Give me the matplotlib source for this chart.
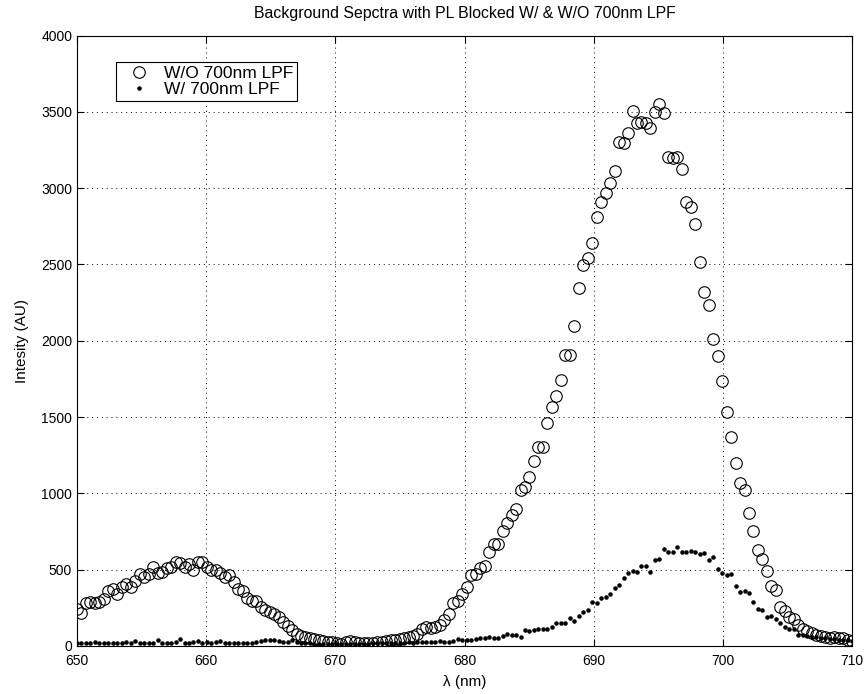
import matplotlib
matplotlib.use("Agg")
import matplotlib.pyplot as plt
import numpy as np

# spectrometer grid, 174 samples from 650 to 710 nm
wavelength = np.linspace(650, 710, 174)

# W/O 700nm LPF (open circles)
no_filter = [
    240, 218, 280, 290, 284, 290, 306, 362, 371, 341,
    389, 406, 385, 428, 472, 454, 472, 520, 480, 487,
    509, 520, 552, 546, 520, 537, 498, 552, 552, 520,
    498, 498, 480, 450, 465, 421, 371, 362, 313, 297,
    295, 255, 236, 224, 212, 190, 160, 130, 105, 80,
    68, 61, 55, 45, 39, 34, 29, 28, 20, 14,
    25, 30, 27, 22, 18, 18, 21, 25, 28, 32,
    37, 40, 45, 51, 57, 65, 80, 110, 125, 118,
    125, 140, 170, 208, 284, 297, 341, 389, 465, 470,
    509, 526, 614, 668, 668, 754, 804, 858, 896, 1022,
    1044, 1109, 1212, 1306, 1302, 1463, 1568, 1640, 1743, 1905,
    1905, 2100, 2344, 2497, 2541, 2639, 2809, 2912, 2971, 3032,
    3113, 3305, 3294, 3360, 3506, 3429, 3436, 3429, 3397, 3502,
    3550, 3491, 3207, 3196, 3207, 3124, 2912, 2875, 2765, 2518,
    2322, 2235, 2010, 1900, 1739, 1535, 1372, 1197, 1070, 1022,
    874, 756, 629, 568, 494, 393, 367, 254, 231, 192,
    175, 138, 109, 100, 83, 72, 66, 57, 50, 57,
    55, 50, 39, 33,
]

# W/ 700nm LPF (dots)
with_filter = [
    20, 18, 22, 20, 24, 20, 18, 22, 20, 20,
    22, 24, 20, 30, 20, 18, 22, 20, 38, 22,
    20, 22, 24, 44, 20, 18, 24, 30, 22, 24,
    20, 26, 32, 20, 22, 18, 20, 22, 20, 18,
    24, 35, 38, 40, 36, 30, 26, 28, 42, 24,
    22, 20, 18, 16, 15, 14, 14, 13, 12, 12,
    14, 15, 14, 16, 15, 16, 18, 17, 18, 20,
    19, 20, 22, 21, 24, 22, 25, 26, 28, 27,
    28, 30, 28, 28, 30, 44, 40, 38, 40, 48,
    50, 52, 57, 50, 55, 65, 79, 72, 70, 57,
    105, 100, 102, 109, 108, 110, 126, 149, 148, 150,
    185, 166, 197, 225, 236, 290, 284, 313, 323, 339,
    378, 400, 448, 476, 494, 485, 524, 524, 483, 564,
    570, 636, 616, 618, 647, 614, 614, 623, 614, 603,
    607, 564, 581, 505, 480, 465, 470, 393, 352, 362,
    345, 290, 240, 236, 188, 199, 175, 153, 123, 109,
    111, 72, 72, 66, 61, 57, 54, 50, 48, 45,
    42, 40, 38, 35,
]

plt.rcParams['font.family'] = ['Liberation Sans', 'DejaVu Sans']
plt.rcParams['font.size'] = 10

fig = plt.figure(figsize=(8.68, 6.94), dpi=100)
ax = fig.add_axes([0.0887, 0.0692, 0.8929, 0.8795])

ax.plot(wavelength, no_filter, 'o', mfc='none', mec='black', ms=8.3, mew=0.8,
        label='W/O 700nm LPF')
ax.plot(wavelength, with_filter, '.', color='black', ms=4.5,
        label='W/ 700nm LPF')

ax.set_xlim(650, 710)
ax.set_ylim(0, 4000)
ax.set_xticks(np.arange(650, 711, 10))
ax.set_yticks(np.arange(0, 4001, 500))
ax.grid(True, linestyle=(0, (1, 4)), color='black', linewidth=0.7)
ax.tick_params(direction='in', top=True, right=True, length=5, labelsize=10)
ax.tick_params(axis='x', pad=6)
for s in ax.spines.values():
    s.set_linewidth(0.8)

ax.set_title('Background Sepctra with PL Blocked W/ & W/O 700nm LPF', fontsize=11.4, pad=13)
ax.set_xlabel('λ (nm)', fontsize=11, labelpad=5)
ax.set_ylabel('Intesity (AU)', fontsize=11, labelpad=9)

leg = ax.legend(loc='upper left', bbox_to_anchor=(0.05, 0.956), borderaxespad=0,
                fancybox=False, framealpha=1, edgecolor='black', fontsize=12.5,
                handlelength=2.3, handletextpad=0.3, borderpad=0.2, labelspacing=0.05)
leg.get_frame().set_linewidth(0.8)

fig.savefig('out.png', dpi=100)
